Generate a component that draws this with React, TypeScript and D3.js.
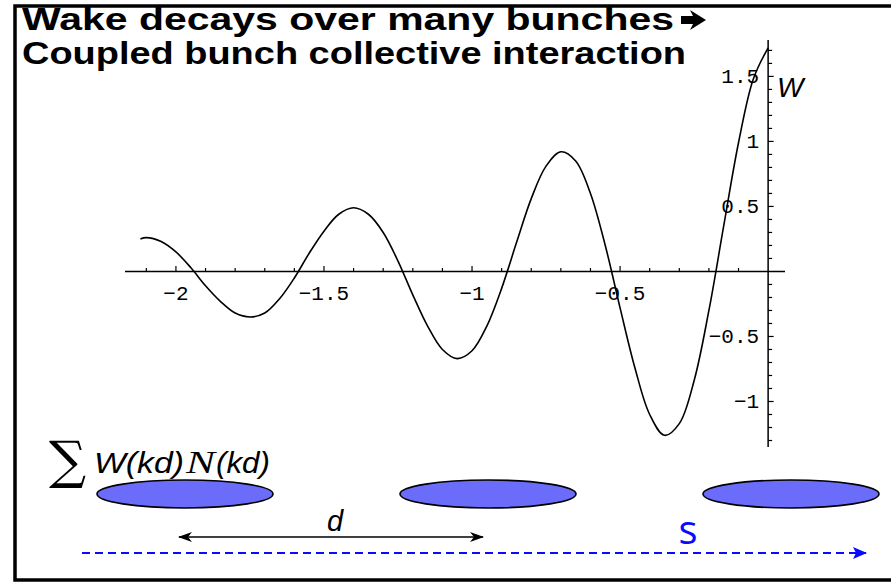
import React from 'react';
import * as d3 from 'd3';

// Wake function W(s) sampled along s (units of the bunch-train length)
const sPositions = [
  -2.12, -2.1, -2.05, -2.0, -1.95, -1.9, -1.85, -1.8, -1.75, -1.7, -1.65, -1.6,
  -1.55, -1.5, -1.45, -1.4, -1.35, -1.3, -1.25, -1.2, -1.15, -1.1, -1.05, -1.0,
  -0.95, -0.9, -0.85, -0.8, -0.75, -0.7, -0.65, -0.6, -0.55, -0.5, -0.45, -0.4,
  -0.35, -0.3, -0.25, -0.2, -0.15, -0.1, -0.05, 0.0,
];
const wakeValues = [
  0.25, 0.26, 0.23, 0.15, 0.03, -0.11, -0.23, -0.32, -0.35, -0.32, -0.21, -0.05,
  0.14, 0.31, 0.44, 0.49, 0.44, 0.3, 0.08, -0.18, -0.42, -0.6, -0.67, -0.61,
  -0.42, -0.13, 0.22, 0.56, 0.81, 0.92, 0.85, 0.6, 0.2, -0.28, -0.74, -1.1,
  -1.26, -1.17, -0.84, -0.3, 0.35, 0.99, 1.48, 1.72,
];

const xMajorTicks = [-2, -1.5, -1, -0.5];
const xTickLabels = ['\u22122', '\u22121.5', '\u22121', '\u22120.5'];
const yMajorTicks = [-1, -0.5, 0.5, 1, 1.5];
const yTickLabels = ['\u22121', '\u22120.5', '0.5', '1', '1.5'];

const titleLine1 = 'Wake decays over many bunches';
const titleLine2 = 'Coupled bunch collective interaction';

const bunchSlots = [0, 1, 2];
const yAxisName = 'W';
const spacingName = 'd';
const coordName = 's';

const W = 891;
const H = 583;

export default function App() {
  const x = d3.scaleLinear().domain([-2.172, 0.057]).range([125, 785]);
  const y = d3.scaleLinear().domain([-1.35, 1.78]).range([447, 40]);

  const points: [number, number][] = sPositions.map((s, i) => [s, wakeValues[i]]);
  const line = d3
    .line<[number, number]>()
    .x((d) => x(d[0]))
    .y((d) => y(d[1]))
    .curve(d3.curveCatmullRom.alpha(0.5));

  const xMinor = d3.range(-21, 0).map((i) => i / 10);
  const yMinor = d3.range(-13, 18).map((i) => i / 10).filter((v) => Math.abs(v) > 1e-9);
  const isMajor = (v: number) => Math.abs(v * 2 - Math.round(v * 2)) < 1e-6;

  const x0 = x(0);
  const y0 = y(0);

  const bunchX = d3.scaleLinear().domain([0, 2]).range([185, 791]);
  const bunchY = 494;

  const tickFont = '"Liberation Mono", "DejaVu Sans Mono", monospace';

  // heavy wide-headed arrow that closes the first title line
  const ax = 681;
  const ay = 20;
  const arrowPath = `M${ax},${ay - 4} L${ax + 12},${ay - 4} L${ax + 9},${ay - 10} L${ax + 25},${ay} L${ax + 9},${ay + 10} L${ax + 12},${ay + 4} L${ax},${ay + 4} Z`;

  return (
    <svg
      width={W}
      height={H}
      viewBox={`0 0 ${W} ${H}`}
      style={{ position: 'absolute', left: 0, top: 0, display: 'block', background: '#fff' }}
    >
      <defs>
        <marker id="headEnd" viewBox="0 0 14 10" refX="13" refY="5" markerWidth="14" markerHeight="10" markerUnits="userSpaceOnUse" orient="auto">
          <path d="M0,0 L14,5 L0,10 L4,5 Z" fill="#000" />
        </marker>
        <marker id="headStart" viewBox="0 0 14 10" refX="13" refY="5" markerWidth="14" markerHeight="10" markerUnits="userSpaceOnUse" orient="auto-start-reverse">
          <path d="M0,0 L14,5 L0,10 L4,5 Z" fill="#000" />
        </marker>
        <marker id="blueHead" viewBox="0 0 14 12" refX="13" refY="6" markerWidth="14" markerHeight="12" markerUnits="userSpaceOnUse" orient="auto">
          <path d="M0,0 L14,6 L0,12 L3,6 Z" fill="#0a0aff" />
        </marker>
      </defs>

      {/* slide frame */}
      <rect x={15} y={6} width={W} height={574} fill="none" stroke="#000" strokeWidth={3.5} />

      {/* title */}
      <g fontFamily='"Liberation Sans", Arial, sans-serif' fontWeight="bold" fontSize={32} fill="#000">
        <text x={22} y={30} textLength={652} lengthAdjust="spacingAndGlyphs">{titleLine1}</text>
        <path d={arrowPath} fill="#000" />
        <text x={22} y={64} textLength={664} lengthAdjust="spacingAndGlyphs">{titleLine2}</text>
      </g>

      {/* axes */}
      <g stroke="#000" strokeWidth={1.5}>
        <line x1={x.range()[0]} x2={x.range()[1]} y1={y0} y2={y0} />
        <line x1={x0} x2={x0} y1={y.range()[1]} y2={y.range()[0]} />
      </g>
      <g stroke="#000" strokeWidth={1.2}>
        {xMinor.map((v) => (
          <line key={`xt${v}`} x1={x(v)} x2={x(v)} y1={y0} y2={y0 - (isMajor(v) ? 5.5 : 3.5)} />
        ))}
        {yMinor.map((v) => (
          <line key={`yt${v}`} x1={x0} x2={x0 + (isMajor(v) ? 5.5 : 4)} y1={y(v)} y2={y(v)} />
        ))}
      </g>
      <g fontFamily={tickFont} fontSize={21} fill="#000">
        {xMajorTicks.map((v, i) => (
          <text key={`xl${v}`} x={x(v)} y={y0 + 29} textAnchor="middle">{xTickLabels[i]}</text>
        ))}
        {yMajorTicks.map((v, i) => (
          <text key={`yl${v}`} x={x0 - 9} y={y(v) + 6.5} textAnchor="end">{yTickLabels[i]}</text>
        ))}
      </g>
      <text x={x0 + 9} y={97} fontFamily='"Liberation Sans", Arial, sans-serif' fontStyle="italic" fontSize={28} fill="#000">{yAxisName}</text>

      {/* wake curve */}
      <path d={line(points) || ''} fill="none" stroke="#000" strokeWidth={1.6} strokeLinejoin="round" />

      {/* summation expression */}
      <g fill="#000">
        <text x={49} y={478} fontFamily='"DejaVu Serif", "Liberation Serif", serif' fontSize={52}>{'\u2211'}</text>
        <text x={94} y={473} fontFamily='"Liberation Sans", Arial, sans-serif' fontStyle="italic" fontSize={30} textLength={90} lengthAdjust="spacingAndGlyphs">W(kd)</text>
        <text x={186} y={473} fontFamily='"Liberation Serif", "DejaVu Serif", serif' fontStyle="italic" fontSize={31} textLength={29} lengthAdjust="spacingAndGlyphs">N</text>
        <text x={216} y={473} fontFamily='"Liberation Sans", Arial, sans-serif' fontStyle="italic" fontSize={30} textLength={54} lengthAdjust="spacingAndGlyphs">(kd)</text>
      </g>

      {/* bunches */}
      {bunchSlots.map((b) => (
        <ellipse key={`b${b}`} cx={bunchX(b)} cy={bunchY} rx={88} ry={14} fill="#6c6cfa" stroke="#000" strokeWidth={1.6} />
      ))}

      {/* bunch spacing */}
      <line x1={bunchX(0) - 6} x2={bunchX(1) - 5} y1={537} y2={537} stroke="#000" strokeWidth={1.5} markerStart="url(#headStart)" markerEnd="url(#headEnd)" />
      <text x={335} y={531} textAnchor="middle" fontFamily='"Liberation Sans", Arial, sans-serif' fontStyle="italic" fontSize={29} fill="#000">{spacingName}</text>

      {/* longitudinal coordinate */}
      <line x1={82} x2={866} y1={553} y2={553} stroke="#0a0aff" strokeWidth={2} strokeDasharray="8 5" markerEnd="url(#blueHead)" />
      <text x={688} y={544} textAnchor="middle" fontFamily='"Open Sans", "Liberation Sans", sans-serif' fontSize={40} fill="#0a0aff">{coordName}</text>
    </svg>
  );
}
